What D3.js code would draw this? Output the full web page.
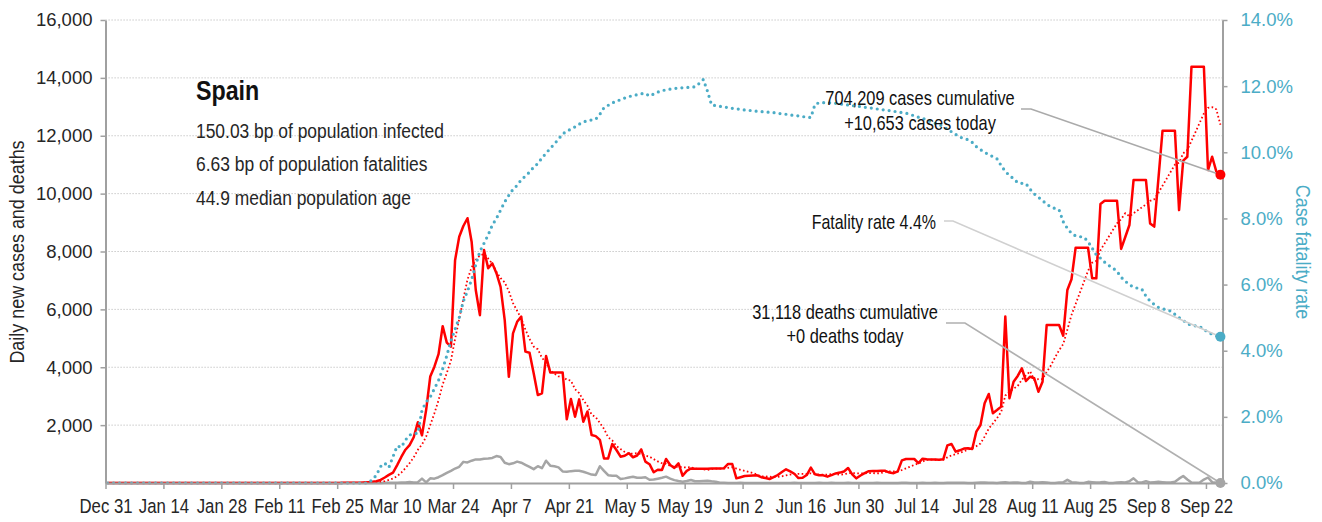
<!DOCTYPE html>
<html>
<head>
<meta charset="utf-8">
<script src="https://cdn.jsdelivr.net/npm/d3@7"></script>
<style>
  body { margin: 0; background: #fff; }
  svg text { font-family: "Liberation Sans", Arial, sans-serif; fill: #262626; }
</style>
</head>
<body>
<script>
// daily series, one value per day from Dec 31 2019 to Sep 25 2020
const cases = [
    0, 0, 0, 0, 0, 0, 0, 0, 0, 0,
    0, 0, 0, 0, 0, 0, 0, 0, 0, 0,
    0, 0, 0, 0, 0, 0, 0, 0, 0, 0,
    0, 0, 1, 0, 0, 0, 0, 0, 0, 0,
    1, 0, 0, 0, 0, 0, 0, 0, 0, 0,
    0, 0, 0, 0, 0, 0, 2, 5, 6, 12,
    10, 12, 20, 30, 40, 60, 110, 190, 280, 360,
    620, 900, 1150, 1310, 1580, 2100, 1650, 2520, 3680, 4020,
    4450, 5420, 4850, 4710, 7700, 8510, 8880, 9150, 8340, 6670,
    5800, 8050, 7420, 7590, 7250, 6780, 5630, 3670, 5170, 5570,
    5750, 4540, 4500, 3790, 3040, 3100, 4390, 3820, 3820, 3820,
    3820, 2200, 2900, 2290, 2890, 2120, 2470, 1660, 1620, 1490,
    850, 850, 1350, 1140, 910, 940, 1030, 890, 950, 1160,
    740, 650, 370, 460, 450, 830, 620, 520, 680, 250,
    420, 500, 490, 490, 495, 495, 500, 500, 505, 510,
    657, 657, 161, 200, 242, 250, 260, 265, 200, 170,
    138, 200, 276, 380, 473, 400, 320, 170, 180, 276,
    530, 300, 270, 265, 220, 270, 330, 360, 400, 520,
    300, 161, 260, 340, 410, 415, 415, 426, 420, 360,
    340, 400, 780, 829, 829, 829, 690, 840, 820, 810,
    810, 800, 820, 1300, 1348, 1083, 1130, 1190, 1200, 1175,
    1774, 2004, 2753, 3075, 2410, 2520, 2640, 5750, 2930, 3500,
    3700, 3963, 3525, 3673, 3620, 3155, 3500, 5460, 5460, 5460,
    5460, 5090, 6670, 7040, 8131, 8131, 8131, 8131, 7073, 7073,
    9640, 9755, 9755, 9755, 9755, 8090, 8500, 8915, 10470, 10470,
    10470, 10470, 8970, 8860, 10500, 12173, 12173, 12173, 12173, 9430,
    11140, 11275, 14385, 14385, 14385, 14385, 10815, 11275, 10770, 10653
];

const deaths = [
    0, 0, 0, 0, 0, 0, 0, 0, 0, 0,
    0, 0, 0, 0, 0, 0, 0, 0, 0, 0,
    0, 0, 0, 0, 0, 0, 0, 0, 0, 0,
    0, 0, 0, 0, 0, 0, 0, 0, 0, 0,
    0, 0, 0, 0, 0, 0, 0, 0, 0, 0,
    0, 0, 0, 0, 0, 0, 0, 0, 0, 0,
    0, 0, 0, 1, 1, 3, 3, 5, 8, 10,
    10, 15, 20, 35, 20, 30, 150, 20, 160, 150,
    200, 270, 350, 420, 500, 560, 730, 710, 770, 815,
    810, 840, 850, 865, 930, 900, 700, 650, 680, 740,
    700, 630, 560, 480, 580, 510, 770, 600, 580, 540,
    400, 390, 410, 425, 420, 390, 340, 290, 276, 580,
    420, 270, 250, 250, 140, 160, 190, 215, 180, 180,
    200, 110, 120, 150, 180, 220, 150, 100, 70, 45,
    70, 104, 60, 60, 70, 80, 60, 46, 10, 5,
    0, 2, 0, 5, 0, 1, 0, 2, 0, 0,
    4, 0, 0, 3, 0, 0, 5, 1, 0, 2,
    0, 3, 5, 0, 2, 8, 3, 0, 1, 7,
    0, 2, 4, 3, 0, 0, 5, 2, 0, 3,
    0, 2, 5, 8, 0, 0, 4, 6, 2, 3,
    5, 0, 0, 8, 10, 6, 5, 8, 0, 0,
    12, 15, 20, 10, 12, 0, 20, 25, 10, 15,
    20, 0, 0, 46, 20, 15, 25, 20, 0, 0,
    20, 25, 110, 30, 20, 0, 0, 40, 30, 20,
    25, 35, 0, 0, 20, 25, 20, 60, 161, 30,
    20, 60, 20, 30, 40, 30, 20, 20, 40, 150,
    240, 120, 20, 10, 20, 120, 190, 30, 10, 0
];

// case fatality rate in percent
const fatalityRate = [
    0, 0, 0, 0, 0, 0, 0, 0, 0, 0,
    0, 0, 0, 0, 0, 0, 0, 0, 0, 0,
    0, 0, 0, 0, 0, 0, 0, 0, 0, 0,
    0, 0, 0, 0, 0, 0, 0, 0, 0, 0,
    0, 0, 0, 0, 0, 0, 0, 0, 0, 0,
    0, 0, 0, 0, 0, 0, 0, 0, 0, 0,
    0, 0, 0, 0, 0.1, 0.24, 0.5, 0.6, 0.47, 0.8,
    1.12, 1.08, 1.3, 1.45, 1.5, 1.5, 2.2, 2.45, 2.6, 2.85,
    3.1, 3.45, 3.85, 4.3, 4.65, 5.0, 5.5, 5.8, 6.15, 6.6,
    7.0, 7.25, 7.5, 7.8, 8.0, 8.25, 8.5, 8.7, 8.88, 9.0,
    9.17, 9.28, 9.4, 9.55, 9.66, 9.83, 9.97, 10.12, 10.25, 10.4,
    10.55, 10.64, 10.7, 10.77, 10.85, 10.92, 10.95, 10.98, 11.0, 11.15,
    11.35, 11.42, 11.5, 11.53, 11.6, 11.64, 11.68, 11.72, 11.74, 11.77,
    11.78, 11.7, 11.76, 11.82, 11.86, 11.89, 11.91, 11.93, 11.94, 11.95,
    11.96, 11.97, 11.98, 12.08, 12.2, 11.85, 11.43, 11.41, 11.39, 11.37,
    11.35, 11.33, 11.31, 11.3, 11.28, 11.27, 11.25, 11.24, 11.23, 11.22,
    11.21, 11.2, 11.18, 11.16, 11.15, 11.13, 11.11, 11.1, 11.08, 11.06,
    11.05, 11.45, 11.5, 11.5, 11.5, 11.49, 11.48, 11.46, 11.45, 11.43,
    11.41, 11.4, 11.38, 11.36, 11.35, 11.33, 11.31, 11.29, 11.28, 11.26,
    11.24, 11.22, 11.2, 11.18, 11.15, 11.1, 11.06, 11.03, 10.98, 10.93,
    10.88, 10.84, 10.78, 10.7, 10.62, 10.54, 10.46, 10.42, 10.38, 10.3,
    10.17, 10.08, 10.0, 9.93, 9.87, 9.8, 9.6, 9.42, 9.3, 9.2,
    9.08, 9.06, 9.05, 8.88, 8.74, 8.64, 8.54, 8.43, 8.35, 8.3,
    8.26, 7.9, 7.7, 7.55, 7.47, 7.45, 7.43, 7.3, 7.1, 6.9,
    6.8, 6.68, 6.58, 6.5, 6.4, 6.22, 6.1, 6.0, 5.92, 5.89,
    5.86, 5.65, 5.5, 5.4, 5.31, 5.27, 5.23, 5.2, 5.1, 5.0,
    4.92, 4.82, 4.77, 4.75, 4.73, 4.65, 4.55, 4.5, 4.45, 4.42
];

const leftTicks = [2000, 4000, 6000, 8000, 10000, 12000, 14000, 16000];
const rightTicks = [0, 2, 4, 6, 8, 10, 12, 14];
const infoLines = ["150.03 bp of population infected", "6.63 bp of population fatalities", "44.9 median population age"];
const casesNote = ["704,209 cases cumulative", "+10,653 cases today"];
const fatalityNote = "Fatality rate 4.4%";
const deathsNote = ["31,118 deaths cumulative", "+0 deaths today"];

const startDay = new Date(Date.UTC(2019, 11, 31));
const endDay = new Date(Date.UTC(2020, 8, 26));
const dates = d3.utcDay.range(startDay, endDay);

const W = 1322, H = 522;
const plotLeft = 105.5, plotRight = 1222.5, plotTop = 20, plotBottom = 483;

const svg = d3.select("body").append("svg")
    .attr("width", W)
    .attr("height", H);

const x = d3.scaleUtc().domain([startDay, endDay]).range([plotLeft, plotRight]);
const yL = d3.scaleLinear().domain([0, 16000]).range([plotBottom, plotTop]);
const yR = d3.scaleLinear().domain([0, 14]).range([plotBottom, plotTop]);
const half = (x(d3.utcDay.offset(startDay, 1)) - x(startDay)) / 2;
const px = i => x(dates[i]) + half;

// 7 day trailing average of daily cases
const avg7 = cases.map((v, i) => d3.mean(cases.slice(Math.max(0, i - 6), i + 1)));

// squeeze text horizontally to get the condensed look of the original
function narrow(sel, xPos, k) {
    sel.attr("x", xPos / k).attr("transform", "scale(" + k + ",1)");
}

// gridlines
svg.append("g")
    .selectAll("line")
    .data(leftTicks)
    .enter().append("line")
    .attr("x1", plotLeft).attr("x2", plotRight)
    .attr("y1", d => yL(d)).attr("y2", d => yL(d))
    .style("stroke", "#bdbdbd")
    .style("stroke-width", 1)
    .style("stroke-dasharray", "1.2 1.8");

const idx = d3.range(cases.length);

const deathsLine = d3.line().x(i => px(i)).y(i => yL(deaths[i]));
svg.append("path")
    .attr("d", deathsLine(idx))
    .style("fill", "none")
    .style("stroke", "#a5a5a5")
    .style("stroke-width", 2.5)
    .style("stroke-linejoin", "round");

const casesLine = d3.line().x(i => px(i)).y(i => yL(cases[i]));
svg.append("path")
    .attr("d", casesLine(idx))
    .style("fill", "none")
    .style("stroke", "#ff0000")
    .style("stroke-width", 2.5)
    .style("stroke-linejoin", "round");

const avgLine = d3.line().x(i => px(i)).y(i => yL(avg7[i]));
svg.append("path")
    .attr("d", avgLine(idx))
    .style("fill", "none")
    .style("stroke", "#ff0000")
    .style("stroke-width", 1.8)
    .style("stroke-dasharray", "1.6 2.4");

const rateLine = d3.line().x(i => px(i)).y(i => yR(fatalityRate[i]));
svg.append("path")
    .attr("d", rateLine(idx))
    .style("fill", "none")
    .style("stroke", "#4bacc6")
    .style("stroke-width", 3.2)
    .style("stroke-linecap", "round")
    .style("stroke-dasharray", "0 6");

// axes
const axisColor = "#a0a0a0";

const xTicks = d3.range(0, 267, 14).map(d => d3.utcDay.offset(startDay, d));
const xAxis = svg.append("g")
    .attr("transform", "translate(0," + plotBottom + ")")
    .call(d3.axisBottom(x).tickValues(xTicks).tickFormat(d3.utcFormat("%b %-d")).tickSize(6).tickSizeOuter(0).tickPadding(10));

const yAxisL = svg.append("g")
    .attr("transform", "translate(" + plotLeft + ",0)")
    .call(d3.axisLeft(yL).tickValues(leftTicks).tickFormat(d3.format(",")).tickSize(5).tickSizeOuter(0).tickPadding(8));

const yAxisR = svg.append("g")
    .attr("transform", "translate(" + plotRight + ",0)")
    .call(d3.axisRight(yR).tickValues(rightTicks).tickFormat(d => d.toFixed(1) + "%").tickSize(5).tickSizeOuter(0).tickPadding(13));

[xAxis, yAxisL, yAxisR].forEach(g => {
    g.select(".domain").style("stroke", axisColor).style("stroke-width", 2);
    g.selectAll(".tick line").style("stroke", axisColor).style("stroke-width", 1.5);
    g.selectAll(".tick text").style("font-size", "18.5px").style("fill", "#262626");
});
xAxis.selectAll(".tick text").style("font-size", "19.5px").attr("transform", "scale(0.86,1)");
yAxisR.selectAll(".tick text").style("fill", "#4bacc6");

// axis titles
svg.append("text")
    .attr("transform", "translate(24,252) rotate(-90) scale(0.92,1)")
    .attr("text-anchor", "middle")
    .style("font-size", "19.5px")
    .text("Daily new cases and deaths");

svg.append("text")
    .attr("transform", "translate(1296,252) rotate(90) scale(0.92,1)")
    .attr("text-anchor", "middle")
    .style("font-size", "19.5px")
    .style("fill", "#4bacc6")
    .text("Case fatality rate");

// country block
svg.append("text")
    .attr("y", 100)
    .style("font-size", "28px")
    .style("font-weight", "bold")
    .style("fill", "#111")
    .text("Spain")
    .call(narrow, 196, 0.83);

svg.selectAll(".info")
    .data(infoLines)
    .enter().append("text")
    .attr("class", "info")
    .attr("y", (d, i) => 138 + i * 33.5)
    .style("font-size", "21px")
    .text(d => d)
    .call(narrow, 196, 0.83);

// annotations with leader lines
const last = cases.length - 1;
const leaders = [
    { pts: [[1021, 109], [1031, 109]], v: [px(last), yL(cases[last])], color: "#aaaaaa" },
    { pts: [[944, 221], [953, 221]], v: [px(last), yR(fatalityRate[last])], color: "#d0d0d0" },
    { pts: [[946, 323], [965, 323]], v: [px(last), yL(deaths[last])], color: "#b0b0b0" }
];
leaders.forEach(l => {
    svg.append("path")
        .attr("d", d3.line()(l.pts.concat([l.v])))
        .style("fill", "none")
        .style("stroke", l.color)
        .style("stroke-width", 1.6);
});

svg.append("circle").attr("cx", px(last)).attr("cy", yL(cases[last])).attr("r", 5).style("fill", "#ff0000");
svg.append("circle").attr("cx", px(last)).attr("cy", yR(fatalityRate[last])).attr("r", 5).style("fill", "#4bacc6");
svg.append("circle").attr("cx", px(last)).attr("cy", yL(deaths[last])).attr("r", 5).style("fill", "#a5a5a5");

casesNote.forEach((t, i) => {
    svg.append("text")
        .attr("y", 105 + i * 25)
        .attr("text-anchor", "middle")
        .style("font-size", "20.5px")
        .style("fill", "#111")
        .text(t)
        .call(narrow, 920, 0.8);
});

svg.append("text")
    .attr("y", 229)
    .attr("text-anchor", "end")
    .style("font-size", "20.5px")
    .style("fill", "#111")
    .text(fatalityNote)
    .call(narrow, 936, 0.78);

deathsNote.forEach((t, i) => {
    svg.append("text")
        .attr("y", 319 + i * 24.5)
        .attr("text-anchor", "middle")
        .style("font-size", "20.5px")
        .style("fill", "#111")
        .text(t)
        .call(narrow, 845, 0.8);
});
</script>
</body>
</html>
